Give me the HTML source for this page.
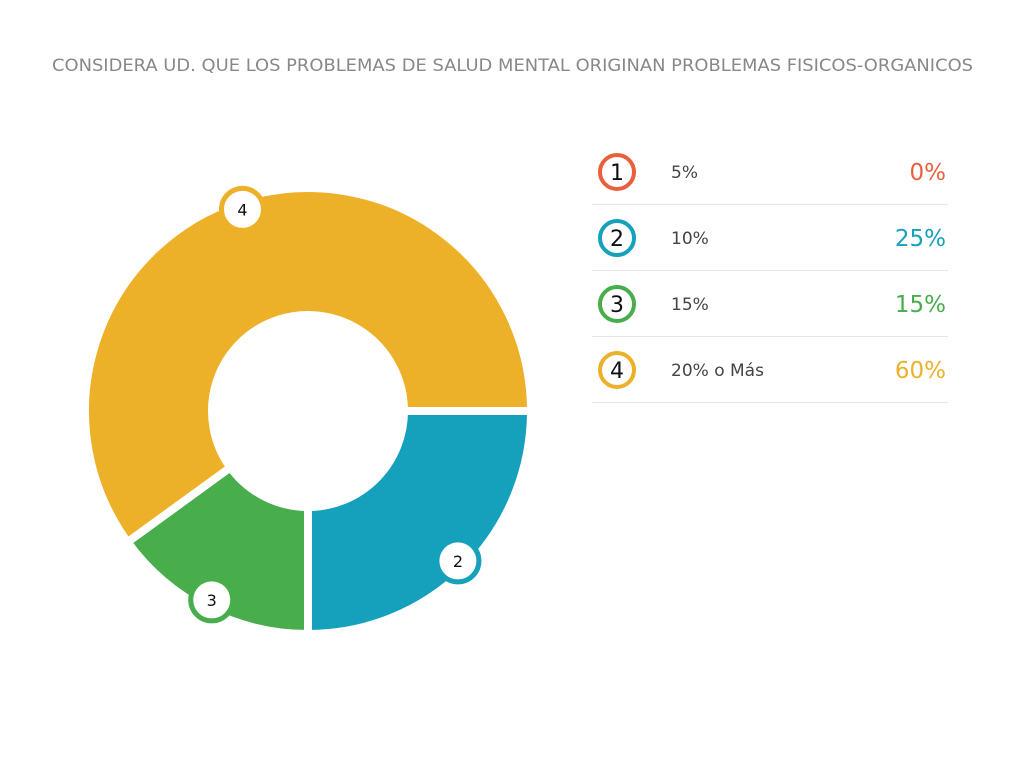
<!DOCTYPE html>
<html><head><meta charset="utf-8"><style>
body{margin:0;width:1024px;height:768px;background:#fff;overflow:hidden;font-family:"DejaVu Sans","Liberation Sans",sans-serif}
</style></head><body>
<svg id="chart" width="1024" height="768">
<text x="52" y="71" font-size="17" fill="#888" textLength="921" lengthAdjust="spacingAndGlyphs" font-family="DejaVu Sans, sans-serif">CONSIDERA UD. QUE LOS PROBLEMAS DE SALUD MENTAL ORIGINAN PROBLEMAS FISICOS-ORGANICOS</text>
<g id="slices"></g><g id="badges"></g><g id="legend"></g>
</svg>
<script>
const ids=["1","2","3","4"];
const categories=["5%","10%","15%","20% o Más"];
const values=[0,25,15,60];
const colors=["#e8603c","#15a0bc","#48ad4b","#ecb128"];
const NS="http://www.w3.org/2000/svg";
const cx=308,cy=411,R=223,r=96;
function mk(t,a,p){const e=document.createElementNS(NS,t);for(const k in a)e.setAttribute(k,a[k]);p.appendChild(e);return e;}
function pt(rad,a){return [cx+rad*Math.cos(a),cy+rad*Math.sin(a)];}
const total=values.reduce((a,b)=>a+b,0);
let start=0;
const sl=document.getElementById('slices'),bd=document.getElementById('badges'),lg=document.getElementById('legend');
values.forEach((v,i)=>{
 if(v<=0)return;
 const a0=start/total*2*Math.PI,a1=(start+v)/total*2*Math.PI;start+=v;
 const lf=(a1-a0)>Math.PI?1:0;
 const p1=pt(R,a0),p2=pt(R,a1),p3=pt(r,a1),p4=pt(r,a0);
 const p=mk('path',{d:`M${p1}A${R},${R} 0 ${lf} 1 ${p2}L${p3}A${r},${r} 0 ${lf} 0 ${p4}Z`,fill:colors[i],stroke:'#fff','stroke-width':8,'stroke-linejoin':'miter'},sl);
 
 
 const am=(a0+a1)/2,b=pt(212,am);
 const c=mk('circle',{cx:b[0],cy:b[1],r:21,fill:'#fff',stroke:colors[i],'stroke-width':5},bd);
 
 
 const t=mk('text',{x:b[0],y:b[1]+6,'text-anchor':'middle','font-size':16,fill:'#111'},bd);t.textContent=ids[i];
 
 
});
categories.forEach((c,i)=>{
 const y=172+i*66;
 const ci=mk('circle',{cx:617,cy:y,r:17,fill:'#fff',stroke:colors[i],'stroke-width':4},lg);
 
 
 const n=mk('text',{x:617,y:y+8,'text-anchor':'middle','font-size':22,fill:'#111'},lg);n.textContent=ids[i];
 
 
 const l=mk('text',{x:671,y:y+6,'font-size':17,fill:'#444'},lg);l.textContent=c;
 
 
 const v=mk('text',{x:946,y:y+8,'text-anchor':'end','font-size':23,fill:colors[i]},lg);v.textContent=values[i]+'%';
 
 
 const ln=mk('line',{x1:592,x2:948,y1:y+32.5,y2:y+32.5,stroke:'#e6e6e6','stroke-width':1},lg);
 
 
});
</script>
</body></html>
